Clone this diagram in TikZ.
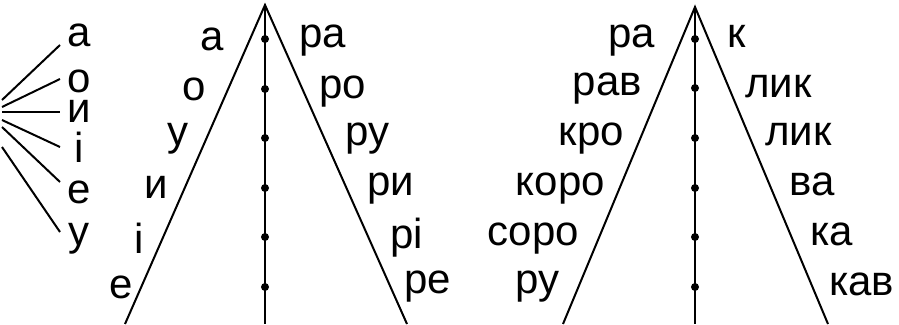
\documentclass[tikz,border=0pt]{standalone}
\usepackage{fontspec}
\setmainfont{Liberation Sans}
\begin{document}
\begin{tikzpicture}[x=1pt,y=-1pt,
  lbl/.style={inner sep=0pt,font=\fontsize{42}{42}\selectfont},
  fan/.style={lbl,text height=17pt,text depth=0pt},
  ln/.style={line width=2pt,black},
  dotnode/.style={circle,fill=black,inner sep=0pt,minimum size=8pt}]
\useasboundingbox (0,0) rectangle (899,324);
% ---- left fan ----
\node[fan,anchor=base] (fa) at (79,46) {а};
\node[fan,anchor=base] (fo) at (79,92) {о};
\node[fan,anchor=base] (fi) at (79,122) {и};
\node[fan,anchor=base] (fii) at (79,162) {і};
\node[fan,anchor=base] (fe) at (79,203) {е};
\node[fan,anchor=base] (fu) at (79,245) {у};
\coordinate (s1) at (2,100); \coordinate (e1) at (60,45);
\coordinate (s2) at (2,107); \coordinate (e2) at (60,79);
\coordinate (s3) at (2,112); \coordinate (e3) at (60,112);
\coordinate (s4) at (2,120); \coordinate (e4) at (60,147);
\coordinate (s5) at (2,127); \coordinate (e5) at (60,182);
\coordinate (s6) at (2,147); \coordinate (e6) at (60,232);
\foreach \i in {1,...,6} {\draw[ln] (s\i) -- (e\i);}
% ---- triangle 1 ----
\coordinate (apA) at (265,5);
\coordinate (blA) at (125,324);
\coordinate (brA) at (407,324);
\coordinate (vbA) at (265,324);
\draw[ln] (blA) -- (apA) -- (brA);
\draw[ln,line width=2.4pt] (apA) -- (vbA);
\foreach \y [count=\k] in {39,89,138,188,237,287} {\node[dotnode] (dA\k) at (265,\y) {};}
\node[lbl,anchor=base] (la1) at (212,50) {а};
\node[lbl,anchor=base] (la2) at (194,100) {о};
\node[lbl,anchor=base] (la3) at (178,145) {у};
\node[lbl,anchor=base] (la4) at (156,198) {и};
\node[lbl,anchor=base] (la5) at (139,253) {і};
\node[lbl,anchor=base] (la6) at (121,298) {е};
\node[lbl,anchor=base west] (ra1) at (299,47) {ра};
\node[lbl,anchor=base west] (ra2) at (319,98) {ро};
\node[lbl,anchor=base west] (ra3) at (345,145) {ру};
\node[lbl,anchor=base west] (ra4) at (367,195) {ри};
\node[lbl,anchor=base west] (ra5) at (390,248) {рі};
\node[lbl,anchor=base west] (ra6) at (404,293) {ре};
% ---- triangle 2 ----
\coordinate (apB) at (695,7);
\coordinate (blB) at (563,324);
\coordinate (brB) at (828,324);
\coordinate (vbB) at (695,324);
\draw[ln] (blB) -- (apB) -- (brB);
\draw[ln,line width=2.4pt] (apB) -- (vbB);
\foreach \y [count=\k] in {39,88,138,188,237,287} {\node[dotnode] (dB\k) at (695,\y) {};}
\node[lbl,anchor=base east] (lb1) at (655,47) {ра};
\node[lbl,anchor=base east] (lb2) at (642,95) {рав};
\node[lbl,anchor=base east] (lb3) at (624,145) {кро};
\node[lbl,anchor=base east] (lb4) at (605,195) {коро};
\node[lbl,anchor=base east] (lb5) at (579,245) {соро};
\node[lbl,anchor=base east] (lb6) at (560,293) {ру};
\node[lbl,anchor=base west] (rb1) at (727,47) {к};
\node[lbl,anchor=base west] (rb2) at (745,97) {лик};
\node[lbl,anchor=base west] (rb3) at (765,145) {лик};
\node[lbl,anchor=base west] (rb4) at (789,195) {ва};
\node[lbl,anchor=base west] (rb5) at (810,245) {ка};
\node[lbl,anchor=base west] (rb6) at (829,295) {кав};
\end{tikzpicture}
\end{document}
